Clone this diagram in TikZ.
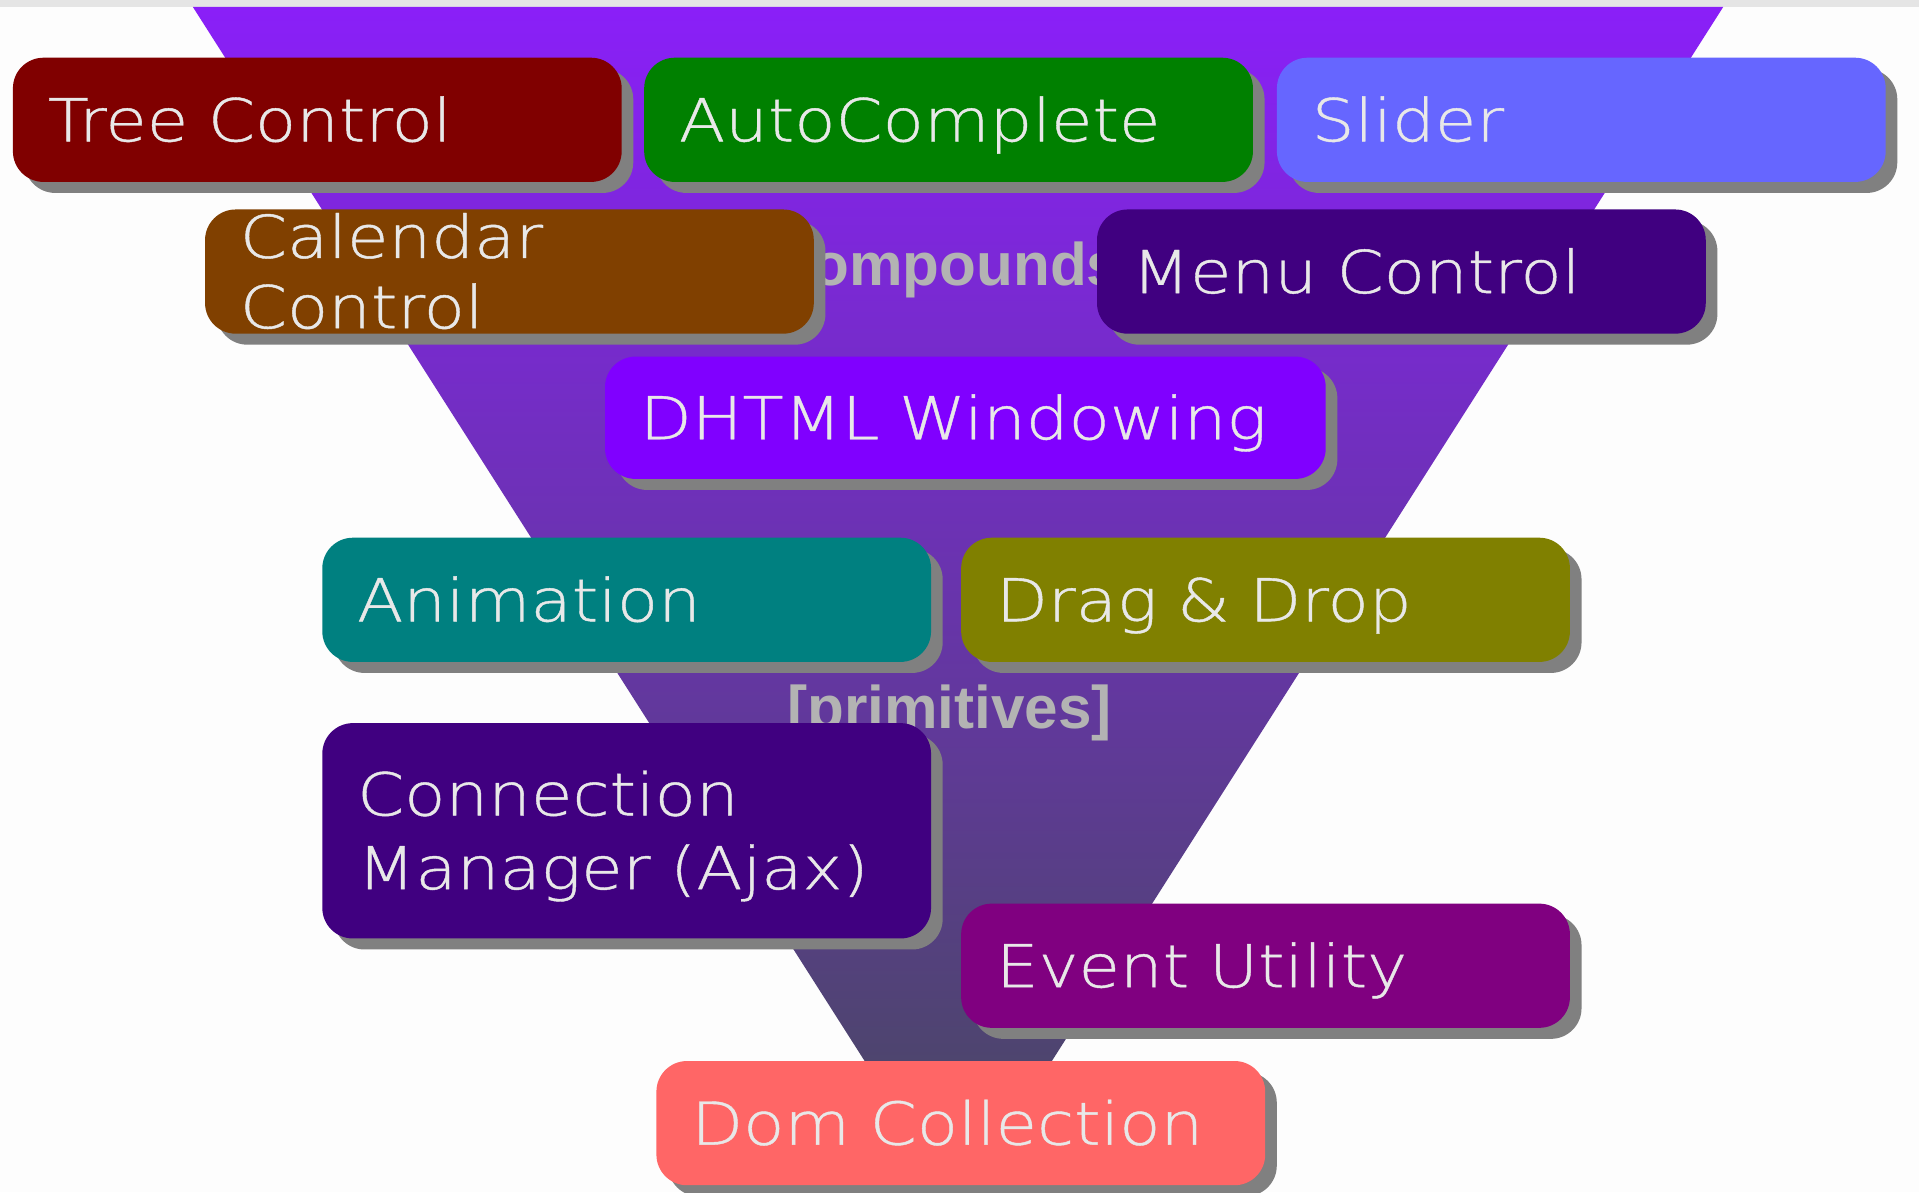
\documentclass[tikz,border=0pt]{standalone}
\usepackage{fontspec}
\usetikzlibrary{shadows}
\IfFontExistsTF{DejaVu Sans ExtraLight}{\newfontfamily\boxfont[FakeStretch=1.14,FakeBold=0.7]{DejaVu Sans ExtraLight}}{\newfontfamily\boxfont[FakeStretch=1.14]{DejaVu Sans}}
\newfontfamily\labelfont{Liberation Sans}
\definecolor{bgwhite}{RGB}{253,253,253}
\definecolor{bandgray}{RGB}{229,229,229}
\definecolor{tritop}{RGB}{138,31,248}
\definecolor{tribot}{RGB}{69,74,91}
\definecolor{boxtext}{RGB}{232,232,232}
\definecolor{labelgray}{RGB}{179,179,179}
\definecolor{shadowgray}{RGB}{128,128,128}
\definecolor{cTree}{RGB}{128,0,0}
\definecolor{cAuto}{RGB}{0,128,0}
\definecolor{cSlider}{RGB}{102,102,255}
\definecolor{cCal}{RGB}{128,64,0}
\definecolor{cMenu}{RGB}{64,0,128}
\definecolor{cDhtml}{RGB}{128,0,255}
\definecolor{cAnim}{RGB}{0,128,128}
\definecolor{cDrag}{RGB}{128,128,0}
\definecolor{cConn}{RGB}{64,0,128}
\definecolor{cEvent}{RGB}{128,0,128}
\definecolor{cDom}{RGB}{255,102,102}
\tikzset{
  boxnode/.style={anchor=north west, rounded corners=0.5cm, inner xsep=0.57cm, inner ysep=0pt,
    text width=8.81cm, minimum height=2.03cm, align=left, text=boxtext,
    font=\boxfont\fontsize{27.5pt}{32.7pt}\selectfont, text height=20pt, text depth=0pt,
    drop shadow={shadow xshift=0.19cm, shadow yshift=-0.18cm, fill=shadowgray, opacity=1}},
  tag/.style={anchor=base, inner sep=0pt, text=labelgray,
    font=\labelfont\bfseries\fontsize{28pt}{30pt}\selectfont}
}
\begin{document}
\begin{tikzpicture}[x=0.02cm, y=-0.02cm]
\useasboundingbox (0,0) rectangle (1568,974);
\fill[bgwhite] (0,0) rectangle (1568,974);
\fill[bandgray] (0,0) rectangle (1568,5.7);
\shade[top color=tritop, bottom color=tribot] (157.6,5.7) -- (1408,5.7) -- (783,987) -- cycle;
\node[tag] (compounds) at (776,233) {[compounds]};
\node[tag] (primitives) at (776,595) {[primitives]};
\node[boxnode, fill=cTree] (tree) at (10.2,46.8) {Tree Control};
\node[boxnode, fill=cAuto] (auto) at (526,46.8) {AutoComplete};
\node[boxnode, fill=cSlider] (slider) at (1043,46.8) {Slider};
\node[boxnode, fill=cCal, text depth=32.7pt] (calendar) at (167.2,170.8) {Calendar\\Control};
\node[boxnode, fill=cMenu] (menu) at (896,170.8) {Menu Control};
\node[boxnode, fill=cDhtml, text width=10.64cm, minimum height=2.0cm] (dhtml) at (494,291) {DHTML Windowing};
\node[boxnode, fill=cAnim] (anim) at (263,439) {Animation};
\node[boxnode, fill=cDrag] (drag) at (785,439) {Drag \& Drop};
\node[boxnode, fill=cConn, minimum height=3.52cm, text depth=34.3pt,
  font=\boxfont\fontsize{27.5pt}{34.3pt}\selectfont] (conn) at (263,590.5) {Connection\\Manager (Ajax)};
\node[boxnode, fill=cEvent] (event) at (785,738) {Event Utility};
\node[boxnode, fill=cDom] (dom) at (536,866.6) {Dom Collection};
\end{tikzpicture}
\end{document}
